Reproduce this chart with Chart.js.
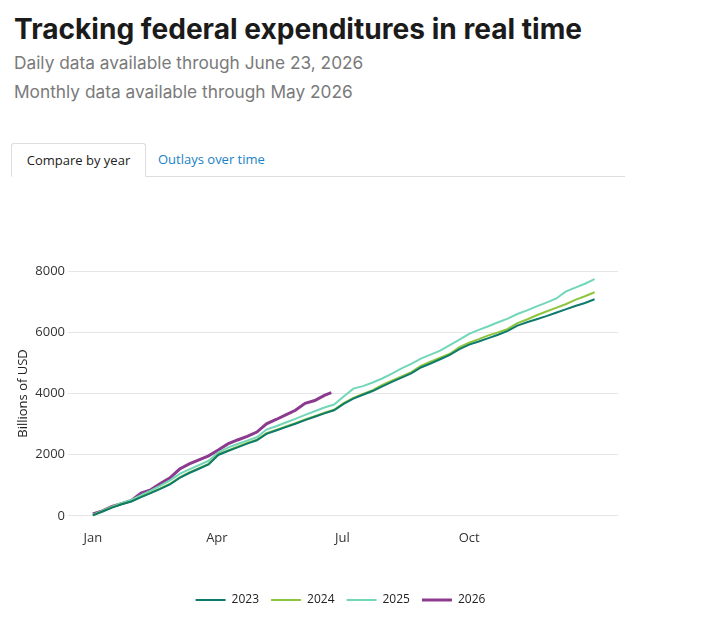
<!DOCTYPE html>
<html>
<head>
<meta charset="utf-8">
<script src="https://cdn.jsdelivr.net/npm/chart.js@4.4.1/dist/chart.umd.min.js"></script>
<style>
  body { margin: 0; background: #fff; width: 703px; height: 635px; overflow: hidden; position: relative; font-family: "Open Sans", sans-serif; }
  h1 { position: absolute; left: 14px; top: 12px; margin: 0; font-family: Inter, sans-serif; font-weight: 700; font-size: 28.1px; color: #1b1b1b; letter-spacing: 0; }
  .sub { position: absolute; left: 14px; margin: 0; font-family: Inter, sans-serif; font-size: 17.3px; color: #7a7a7a; }
  .tabs { position: absolute; left: 11px; top: 143px; width: 614px; height: 33px; border-bottom: 1px solid #ddd; }
  .tab { position: absolute; top: 0; height: 33px; line-height: 32px; font-size: 13px; }
  .tab.active { left: 0; width: 133px; border: 1px solid #ddd; border-bottom: 1px solid #fff; border-radius: 3px 3px 0 0; background: #fff; color: #222; text-align: center; height: 32px; }
  .tab.other { left: 147px; color: #1a82c4; }
  #wrap { position: absolute; left: 0; top: 180px; width: 670px; height: 440px; }
</style>
</head>
<body>
<h1>Tracking federal expenditures in real time</h1>
<p class="sub" style="top:52px">Daily data available through June 23, 2026</p>
<p class="sub" style="top:81px">Monthly data available through May 2026</p>
<div class="tabs">
  <div class="tab active">Compare by year</div>
  <div class="tab other">Outlays over time</div>
</div>
<div id="wrap"><canvas id="chart"></canvas></div>
<script>
// day of year (weekly samples)
const weekDays = [0, 7, 14, 21, 28, 35, 42, 49, 56, 63, 70, 77, 84, 91, 98, 105, 112, 119, 126, 133, 140, 147, 154, 161, 168, 175, 182, 189, 196, 203, 210, 217, 224, 231, 238, 245, 252, 259, 266, 273, 280, 287, 294, 301, 308, 315, 322, 329, 336, 343, 350, 357, 364];
const days2026 = [0, 7, 14, 21, 28, 35, 42, 49, 56, 63, 70, 77, 84, 91, 98, 105, 112, 119, 126, 133, 140, 147, 154, 161, 168, 173];

// cumulative outlays, billions of USD
const spend2023 = [15, 140, 270, 380, 470, 610, 740, 880, 1030, 1240, 1400, 1540, 1680, 1990, 2120, 2240, 2360, 2470, 2680, 2790, 2900, 3010, 3130, 3240, 3350, 3450, 3660, 3830, 3960, 4080, 4230, 4380, 4520, 4660, 4850, 4980, 5120, 5260, 5450, 5600, 5700, 5810, 5920, 6050, 6220, 6330, 6430, 6530, 6640, 6750, 6860, 6960, 7080];
const spend2024 = [20, 150, 280, 390, 480, 620, 760, 900, 1050, 1260, 1420, 1560, 1700, 2010, 2140, 2260, 2380, 2490, 2700, 2810, 2920, 3030, 3150, 3260, 3370, 3470, 3690, 3860, 3990, 4110, 4280, 4420, 4560, 4700, 4900, 5040, 5170, 5300, 5520, 5660, 5780, 5900, 6000, 6110, 6300, 6420, 6560, 6680, 6800, 6920, 7060, 7180, 7310];
const spend2025 = [30, 170, 300, 420, 520, 680, 820, 990, 1160, 1370, 1520, 1660, 1800, 2070, 2230, 2350, 2460, 2570, 2820, 2930, 3050, 3170, 3300, 3420, 3540, 3640, 3900, 4160, 4240, 4360, 4490, 4650, 4820, 4970, 5140, 5270, 5400, 5580, 5760, 5950, 6080, 6200, 6330, 6450, 6600, 6720, 6850, 6970, 7100, 7330, 7460, 7590, 7740];
const spend2026 = [60, 160, 310, 400, 500, 740, 850, 1060, 1240, 1530, 1700, 1830, 1960, 2150, 2350, 2480, 2600, 2740, 3010, 3150, 3300, 3450, 3680, 3770, 3940, 4030];

const monthTicks = [0, 90, 181, 273];
const monthLabels = ["Jan", "Apr", "Jul", "Oct"];
const yTicks = [0, 2000, 4000, 6000, 8000];

const pts = (xs, ys) => ys.map((v, i) => ({ x: xs[i], y: v }));

const series = [
  { label: "2023", data: pts(weekDays, spend2023), color: "#0e7a6b", width: 2 },
  { label: "2024", data: pts(weekDays, spend2024), color: "#8cc63e", width: 2 },
  { label: "2025", data: pts(weekDays, spend2025), color: "#72d6b8", width: 2 },
  { label: "2026", data: pts(days2026, spend2026), color: "#8b3a8e", width: 3 }
];

new Chart(document.getElementById("chart"), {
  type: "line",
  data: {
    datasets: series.map(s => ({
      label: s.label,
      data: s.data,
      borderColor: s.color,
      backgroundColor: s.color,
      borderWidth: s.width,
      pointRadius: 0,
      tension: 0
    }))
  },
  options: {
    responsive: true,
    maintainAspectRatio: false,
    animation: false,
    layout: { padding: { left: 11, top: 82, right: 0, bottom: 4 } },
    plugins: {
      tooltip: { enabled: false },
      legend: {
        position: "bottom",
        labels: {
          usePointStyle: true,
          pointStyle: "line",
          pointStyleWidth: 30,
          color: "#222",
          font: { family: "Open Sans", size: 12 },
          padding: 12
        }
      }
    },
    scales: {
      x: {
        type: "linear",
        min: -18,
        max: 381,
        grid: { display: false, drawTicks: false },
        border: { display: false },
        afterBuildTicks: (scale) => { scale.ticks = monthTicks.map(v => ({ value: v })); },
        afterFit: (scale) => { scale.height = 57; },
        ticks: {
          color: "#333",
          font: { family: "Open Sans", size: 13 },
          maxRotation: 0,
          padding: 5,
          callback: (v) => monthLabels[monthTicks.indexOf(v)]
        }
      },
      y: {
        min: -300,
        max: 8300,
        grid: { color: "#e6e6e6", lineWidth: 1, drawTicks: false },
        border: { display: false },
        afterBuildTicks: (scale) => { scale.ticks = yTicks.map(v => ({ value: v })); },
        afterFit: (scale) => { scale.width = 57; },
        title: { display: true, text: "Billions of USD", color: "#222", font: { family: "Open Sans", size: 13 } },
        ticks: { color: "#333", font: { family: "Open Sans", size: 13 }, padding: 3, callback: (v) => String(v) }
      },
      // empty right margin so the legend stays centred on the whole figure
      yRight: {
        position: "right",
        grid: { display: false, drawTicks: false },
        border: { display: false },
        ticks: { display: false },
        afterFit: (scale) => { scale.width = 52; }
      }
    }
  }
});
</script>
</body>
</html>
